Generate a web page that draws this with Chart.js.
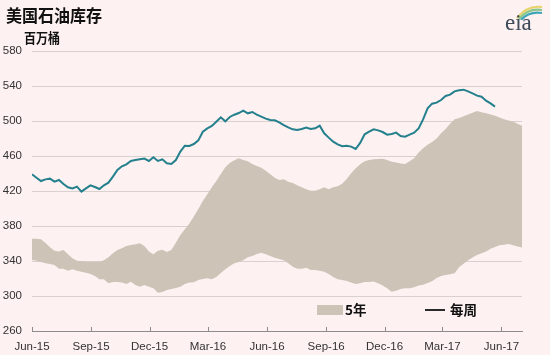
<!DOCTYPE html>
<html>
<head>
<meta charset="utf-8">
<script src="https://cdn.jsdelivr.net/npm/chart.js@4/dist/chart.umd.min.js"></script>
<style>
  html, body { margin:0; padding:0; background:#fdf1f1; }
  #wrap { position:relative; width:550px; height:355px; overflow:hidden; background:#fdf1f1; }
  canvas { position:absolute; left:0; top:0; }
  .t { position:absolute; white-space:nowrap; line-height:1; color:#111; font-family:"Noto Sans CJK SC","Noto Sans",sans-serif; font-weight:bold; }
  #title { left:6px; top:5px; font-size:16px; transform:scaleY(1.1); transform-origin:left top; }
  #unit { left:24px; top:31px; font-size:12px; transform:scaleY(1.1); transform-origin:left top; }
  #eia { position:absolute; left:505px; top:11px; font-family:"Liberation Serif","DejaVu Serif",serif; font-size:23px; color:#3c4a5a; line-height:1; }
  #logo { position:absolute; left:513px; top:2px; }
  .sw { position:absolute; }
  #lg1 { left:345px; top:303px; font-size:13.5px; }
  #lg2 { left:450px; top:303px; font-size:13.5px; }
</style>
</head>
<body>
<div id="wrap">
  <canvas id="c" width="550" height="355"></canvas>
  <div class="t" id="title">美国石油库存</div>
  <div class="t" id="unit">百万桶</div>
  <svg id="logo" width="32" height="18" viewBox="0 0 32 18">
    <path d="M4 16 Q14 3 29 5" stroke="#e8d36a" stroke-width="2.2" fill="none"/>
    <path d="M6 17 Q15 6 29 8" stroke="#8cc58a" stroke-width="2.2" fill="none"/>
    <path d="M8 18 Q16 9 29 11" stroke="#3ea6b8" stroke-width="2.2" fill="none"/>
  </svg>
  <div id="eia">eia</div>
  <div class="sw" style="left:317px;top:305px;width:26px;height:10px;background:#cdc4b7;"></div>
  <div class="t" id="lg1">5年</div>
  <div class="sw" style="left:425px;top:309px;width:20px;height:2px;background:#2a2a2a;"></div>
  <div class="t" id="lg2">每周</div>
</div>
<script>
// ---- data (millions of barrels), weekly from the week of 1 Jun 2015 ----
const startDate = '2015-06-01';
const tickDates  = ['2015-06-01','2015-09-01','2015-12-01','2016-03-01','2016-06-01','2016-09-01','2016-12-01','2017-03-01','2017-06-01'];
const tickLabels = ['Jun-15','Sep-15','Dec-15','Mar-16','Jun-16','Sep-16','Dec-16','Mar-17','Jun-17'];
const yTicks = [260,300,340,380,420,460,500,540,580];

const weeklyStocks = [
  439,435.2,431.4,433.3,434.1,430.7,432.6,428,424.2,423,
  425,419.3,423,426.5,424.6,422.3,426.5,429.5,436.4,444,
  448.2,450.5,454.3,455.4,456.2,457,454.3,458.5,454.3,456.2,
  451.6,450.9,455.4,465,471.8,471.5,473.7,477.9,487.8,491.6,
  494.3,499.2,504.2,499.6,504.6,507.2,509.1,511.8,508.8,510.3,
  507.2,505,502.7,501.1,500.8,498.5,495.4,492.8,490.5,489.7,
  490.9,492.4,490.9,491.6,494.7,485.9,481,476.4,473.3,471.1,
  471.8,470.7,468,475,484.8,487.8,490.5,489.3,487.4,484.4,
  485.2,486.7,482.9,482.1,484.4,486.7,491.6,501.9,514.5,519.8,
  521,524,528.6,530.1,533.9,535.1,535.8,533.9,531.6,529,
  527.8,523.2,520.2,516.4
];

const fiveYearHigh = [
  365.5,365.5,364.8,360.6,355.6,351.8,351,352.6,347.6,343.1,
  340.4,339.6,339.2,339.2,339.2,339.2,340.8,344.2,348.8,352.6,
  354.5,357.2,358.3,359.1,360.2,357.2,351,347.6,351.8,353,
  350.3,352.6,361,369.7,376.2,383,391,399.4,408.6,416.2,
  424.2,431.4,439.4,447.1,452,455.1,457.3,455.4,453.9,450.9,
  448.6,446.7,443.2,439.1,435.2,432.6,433.3,430.7,429.1,426.5,
  424.2,421.9,420.4,420.4,421.9,424.2,421.9,424.2,425.3,428.4,
  433.7,440.2,445.9,450.5,453.9,455.4,456.2,456.5,457,455.5,
  453.5,452.5,451.5,451,454,457.5,464,469,473,476,
  480,486,491,497,502,503.5,505.5,507.5,509.5,511.5,
  510,509,507.5,506,504,502,500.5,499.5,497,494.5
];

const fiveYearLow = [
  341.1,340.4,338.9,337.4,336.6,335.4,331.2,331.2,329,330.5,
  329,327.8,326.7,325.2,322.9,319.1,319.1,314.5,316,316,
  315.3,313.7,316.4,312.6,310.7,312.6,310.7,308.8,303.8,304.6,
  307,308,309.2,310.7,313.7,315.3,315.8,318.3,319.4,320.2,
  319.1,321.7,326.3,330.5,334.3,337.4,338.9,340.8,344.2,345.7,
  348,349.5,347.6,345.7,343.8,342.3,340.8,337.4,333.5,331.2,
  331.2,332.4,329.7,329.7,329,327.8,325.1,321.7,319.1,318.3,
  317.2,315.3,313.7,314.5,316,316,316.5,314.5,312,309,
  305,306,308,309,309,310,312,313,315,317,
  320.5,323,324,325,326,333,337,341,344,347,
  349,351,354,356,358,358.5,359.5,358,356.5,355.5
];

// ---- build ----
const DAY = 86400000;
const dayOf = d => (Date.parse(d) - Date.parse(startDate)) / DAY;
const toPts = arr => arr.map((v, i) => ({ x: i * 7, y: v }));
const tickDays = tickDates.map(dayOf);
const xMax = (fiveYearHigh.length - 1) * 7;

const upTicks = {
  id: 'upTicks',
  afterDraw(chart) {
    const { ctx, chartArea, scales: { x } } = chart;
    ctx.save();
    ctx.strokeStyle = '#8c8c8c';
    ctx.lineWidth = 1;
    x.ticks.forEach(t => {
      const px = Math.round(x.getPixelForValue(t.value)) + 0.5;
      ctx.beginPath();
      ctx.moveTo(px, chartArea.bottom);
      ctx.lineTo(px, chartArea.bottom - 4);
      ctx.stroke();
    });
    ctx.restore();
  }
};

new Chart(document.getElementById('c'), {
  type: 'line',
  data: {
    datasets: [
      { label: '每周', data: toPts(weeklyStocks), borderColor: '#23808c', borderWidth: 2,
        pointRadius: 0, fill: false, tension: 0 },
      { label: '5年低', data: toPts(fiveYearLow), borderWidth: 0, borderColor: 'rgba(0,0,0,0)',
        pointRadius: 0, fill: false, tension: 0 },
      { label: '5年', data: toPts(fiveYearHigh), borderWidth: 0, borderColor: 'rgba(0,0,0,0)',
        backgroundColor: '#cdc4b7', pointRadius: 0, fill: '-1', tension: 0 }
    ]
  },
  options: {
    responsive: false,
    animation: false,
    events: [],
    layout: { padding: { top: 51, right: 28, left: 0, bottom: 0 } },
    plugins: { legend: { display: false }, tooltip: { enabled: false }, title: { display: false } },
    scales: {
      x: {
        type: 'linear', min: 0, max: xMax,
        afterBuildTicks: s => { s.ticks = tickDays.map(v => ({ value: v })); },
        afterFit: s => { s.height = 24; },
        ticks: {
          autoSkip: false, maxRotation: 0, padding: 9,
          color: '#333', font: { family: 'Liberation Sans, Arial, sans-serif', size: 11.5 },
          callback: (v, i) => tickLabels[i]
        },
        grid: { display: true, drawOnChartArea: false, drawTicks: false },
        border: { display: true, color: '#8c8c8c', width: 1 }
      },
      y: {
        min: 260, max: 580,
        afterBuildTicks: s => { s.ticks = yTicks.map(v => ({ value: v })); },
        afterFit: s => { s.width = 32; },
        ticks: {
          padding: 10, color: '#333',
          font: { family: 'Liberation Sans, Arial, sans-serif', size: 11.5 }
        },
        grid: { color: '#d9d0d0', lineWidth: 1, drawTicks: false },
        border: { display: false }
      }
    }
  },
  plugins: [upTicks]
});
</script>
</body>
</html>
